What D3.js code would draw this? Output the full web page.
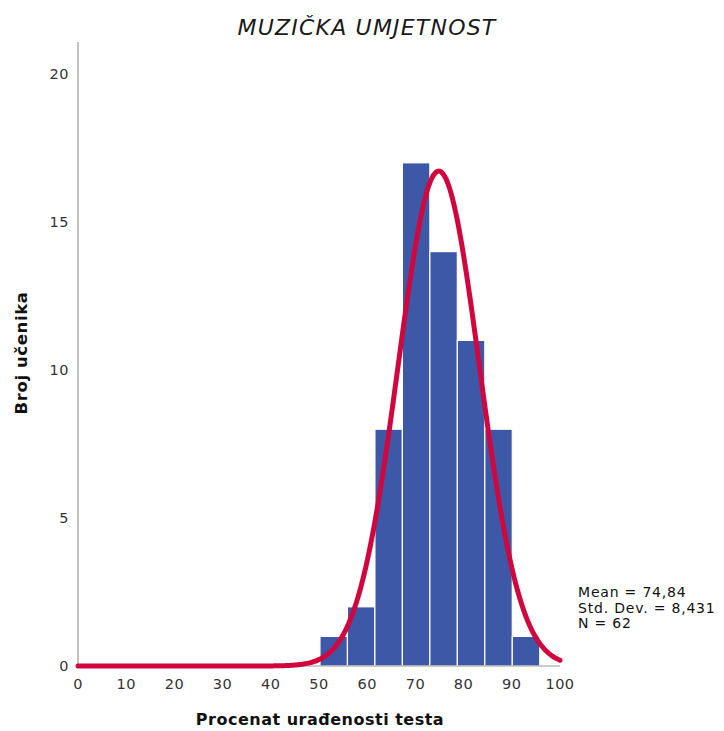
<!DOCTYPE html>
<html><head><meta charset="utf-8">
<script src="https://cdn.jsdelivr.net/npm/d3@7"></script>
<style>body{margin:0;background:#fff}</style>
</head><body>
<svg id="c" width="724" height="731"></svg>
<script>
const binEdges = [50.2, 55.9, 61.6, 67.3, 73.0, 78.7, 84.4, 90.1, 95.8];
const counts = [1, 2, 8, 17, 14, 11, 8, 1];
const xTicks = [0,10,20,30,40,50,60,70,80,90,100];
const yTicks = [0,5,10,15,20];
const mean = 74.84, sd = 8.431, n = 62;
const statLines = ["Mean = 74,84", "Std. Dev. = 8,431", "N = 62"];

const svg = d3.select("#c");
const x = d3.scaleLinear().domain([0,100]).range([78,560]);
const y = d3.scaleLinear().domain([0,20]).range([666,74]);
const font = "DejaVu Sans, Verdana, sans-serif";

// bars
const bins = counts.map((c,i)=>({x0:binEdges[i], x1:binEdges[i+1], c}));
svg.selectAll("rect.bar").data(bins).join("rect")
  .attr("x", d=>x(d.x0)).attr("width", d=>x(d.x1)-x(d.x0))
  .attr("y", d=>y(d.c)).attr("height", d=>y(0)-y(d.c))
  .attr("fill", "#3e58a8").attr("stroke", "#ffffff").attr("stroke-width", 1.2);

// axes lines
svg.append("line").attr("x1",x(0)).attr("x2",x(0)).attr("y1",42).attr("y2",y(0))
  .attr("stroke","#9a9a9a").attr("stroke-width",1.2);
svg.append("line").attr("x1",x(0)).attr("x2",x(100)).attr("y1",y(0)).attr("y2",y(0))
  .attr("stroke","#9a9a9a").attr("stroke-width",1.2);

// normal curve
const bw = binEdges[1]-binEdges[0];
const pts = d3.range(0, 100.01, 0.25).map(v=>[v, n*bw*Math.exp(-0.5*((v-mean)/sd)**2)/(sd*Math.sqrt(2*Math.PI))]);
svg.append("path").datum(pts)
  .attr("d", d3.line().x(d=>x(d[0])).y(d=>y(d[1])).curve(d3.curveBasis))
  .attr("fill","none").attr("stroke","#d0063f").attr("stroke-width",5).attr("stroke-linecap","round");

// tick labels
svg.selectAll("text.xt").data(xTicks).join("text")
  .attr("x", d=>x(d)).attr("y", 689).attr("text-anchor","middle")
  .attr("font-family",font).attr("font-size",14.5).attr("letter-spacing",0.5).attr("fill","#333").text(d=>d);
svg.selectAll("text.yt").data(yTicks).join("text")
  .attr("x", 69).attr("y", d=>y(d)+5).attr("text-anchor","end")
  .attr("font-family",font).attr("font-size",14.5).attr("letter-spacing",0.5).attr("fill","#333").text(d=>d);

// titles
svg.append("text").attr("x",367).attr("y",35).attr("text-anchor","middle")
  .attr("font-family",font).attr("font-style","italic").attr("font-size",22).attr("letter-spacing",1.2).attr("fill","#1a1a1a")
  .text("MUZIČKA UMJETNOST");
svg.append("text").attr("x",320).attr("y",725).attr("text-anchor","middle")
  .attr("font-family",font).attr("font-weight","bold").attr("font-size",16).attr("letter-spacing",0.5).attr("fill","#111")
  .text("Procenat urađenosti testa");
svg.append("text").attr("transform","translate(27,353) rotate(-90)").attr("text-anchor","middle")
  .attr("font-family",font).attr("font-weight","bold").attr("font-size",16.5).attr("letter-spacing",0.6).attr("fill","#111")
  .text("Broj učenika");

// stats
svg.selectAll("text.st").data(statLines).join("text")
  .attr("x",578).attr("y",(d,i)=>597+i*15.5)
  .attr("font-family",font).attr("font-size",14).attr("letter-spacing",0.8).attr("fill","#111").text(d=>d);
</script>
</body></html>
